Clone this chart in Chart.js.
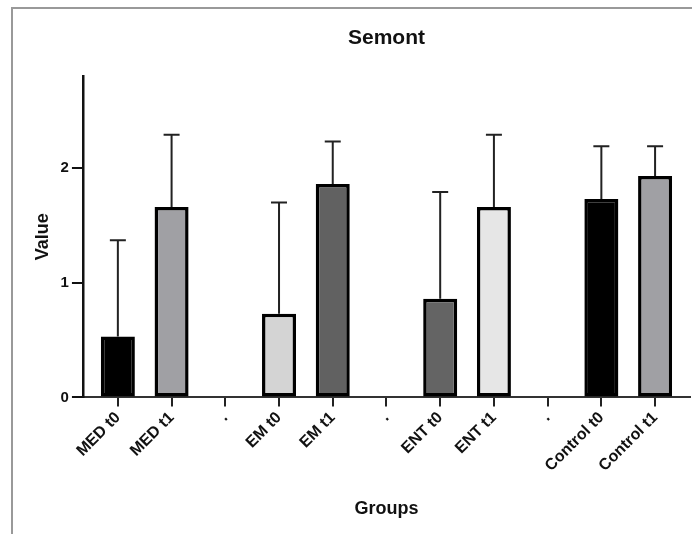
<!DOCTYPE html>
<html>
<head>
<meta charset="utf-8">
<script src="https://cdn.jsdelivr.net/npm/chart.js@4"></script>
<style>
html, body { margin: 0; padding: 0; background: #fff; }
#wrap { position: relative; width: 692px; height: 534px; overflow: hidden; }
#frame { position: absolute; left: 11px; top: 7px; width: 700px; height: 540px; border-top: 2px solid #999; border-left: 2px solid #999; }
canvas { position: absolute; left: 0; top: 0; }
</style>
</head>
<body>
<div id="wrap">
<div id="frame"></div>
<canvas id="barchartSemont" width="692" height="534"></canvas>
</div>
<script>
// data semont
var groups = ["MED t0", "MED t1", ".", "EM t0", "EM t1", ".", "ENT t0", "ENT t1", ".", "Control t0", "Control t1"];
var means = [0.53, 1.66, null, 0.73, 1.86, null, 0.86, 1.66, null, 1.73, 1.93];
var errTop = [1.37, 2.29, null, 1.70, 2.23, null, 1.79, 2.29, null, 2.19, 2.19];
var barColors = ["#000000", "#a0a0a4", "#ffffff", "#d4d4d4", "#616161", "#ffffff", "#646464", "#e6e6e6", "#ffffff", "#000000", "#a0a0a4"];
var yTicks = [0, 1, 2];
var yMax = 2.8;

var fontFam = "Arial, 'Liberation Sans', Helvetica, sans-serif";

// error bars (upper SD)
var errorBars = {
    id: "errorBars",
    beforeDatasetsDraw: function (chart) {
        var ctx = chart.ctx;
        var meta = chart.getDatasetMeta(0);
        var y = chart.scales.y;
        ctx.save();
        ctx.strokeStyle = "#222";
        ctx.lineWidth = 2;
        meta.data.forEach(function (bar, i) {
            if (errTop[i] == null || means[i] == null) return;
            var top = y.getPixelForValue(errTop[i]);
            ctx.beginPath();
            ctx.moveTo(bar.x, bar.y);
            ctx.lineTo(bar.x, top);
            ctx.moveTo(bar.x - 8, top);
            ctx.lineTo(bar.x + 8, top);
            ctx.stroke();
        });
        ctx.restore();
    },
};

var ctx = document.getElementById("barchartSemont").getContext("2d");
var barchartSemont = new Chart(ctx, {
    type: "bar",
    data: {
        datasets: [
            {
                label: "Semont",
                data: groups.map(function (g, i) { return { x: i, y: means[i] }; }),
                backgroundColor: barColors,
                borderColor: "#000",
                borderWidth: 3.5,
                borderSkipped: false,
                barPercentage: 0.633,
                categoryPercentage: 1,
            },
        ],
    },
    options: {
        responsive: false,
        animation: false,
        layout: { padding: { left: 10, top: 8, right: 2, bottom: 10 } },
        plugins: {
            legend: { display: false },
            tooltip: { enabled: false },
            title: {
                display: true,
                text: "Semont",
                fullSize: false,
                color: "#111",
                font: { family: fontFam, size: 21, weight: "bold" },
                padding: { top: 18, bottom: 25 },
            },
        },
        scales: {
            x: {
                type: "linear",
                min: -0.65,
                max: 10.65,
                offset: false,
                afterBuildTicks: function (axis) {
                    axis.ticks = groups.map(function (g, i) { return { value: i }; });
                },
                grid: { offset: false, drawOnChartArea: false, color: "#222", lineWidth: 2, tickLength: 9 },
                border: { color: "#333", width: 2 },
                ticks: {
                    autoSkip: false,
                    maxRotation: 45,
                    minRotation: 45,
                    padding: 2,
                    color: "#111",
                    font: { family: fontFam, size: 16, weight: "bold" },
                    callback: function (v) { return groups[v]; },
                },
                title: {
                    display: true,
                    text: "Groups",
                    color: "#111",
                    font: { family: fontFam, size: 18, weight: "bold" },
                    padding: { top: 21, bottom: 4 },
                },
            },
            y: {
                min: 0,
                max: yMax,
                afterBuildTicks: function (axis) {
                    axis.ticks = yTicks.map(function (v) { return { value: v }; });
                },
                grid: { drawOnChartArea: false, color: "#111", lineWidth: 2, tickLength: 11 },
                border: { color: "#111", width: 2.5 },
                ticks: {
                    padding: 3,
                    color: "#111",
                    font: { family: fontFam, size: 15, weight: "bold" },
                },
                title: {
                    display: true,
                    text: "Value",
                    color: "#111",
                    font: { family: fontFam, size: 18, weight: "bold" },
                    padding: { top: 22, bottom: 4 },
                },
            },
        },
    },
    plugins: [errorBars],
});
// end data semont
</script>
</body>
</html>
